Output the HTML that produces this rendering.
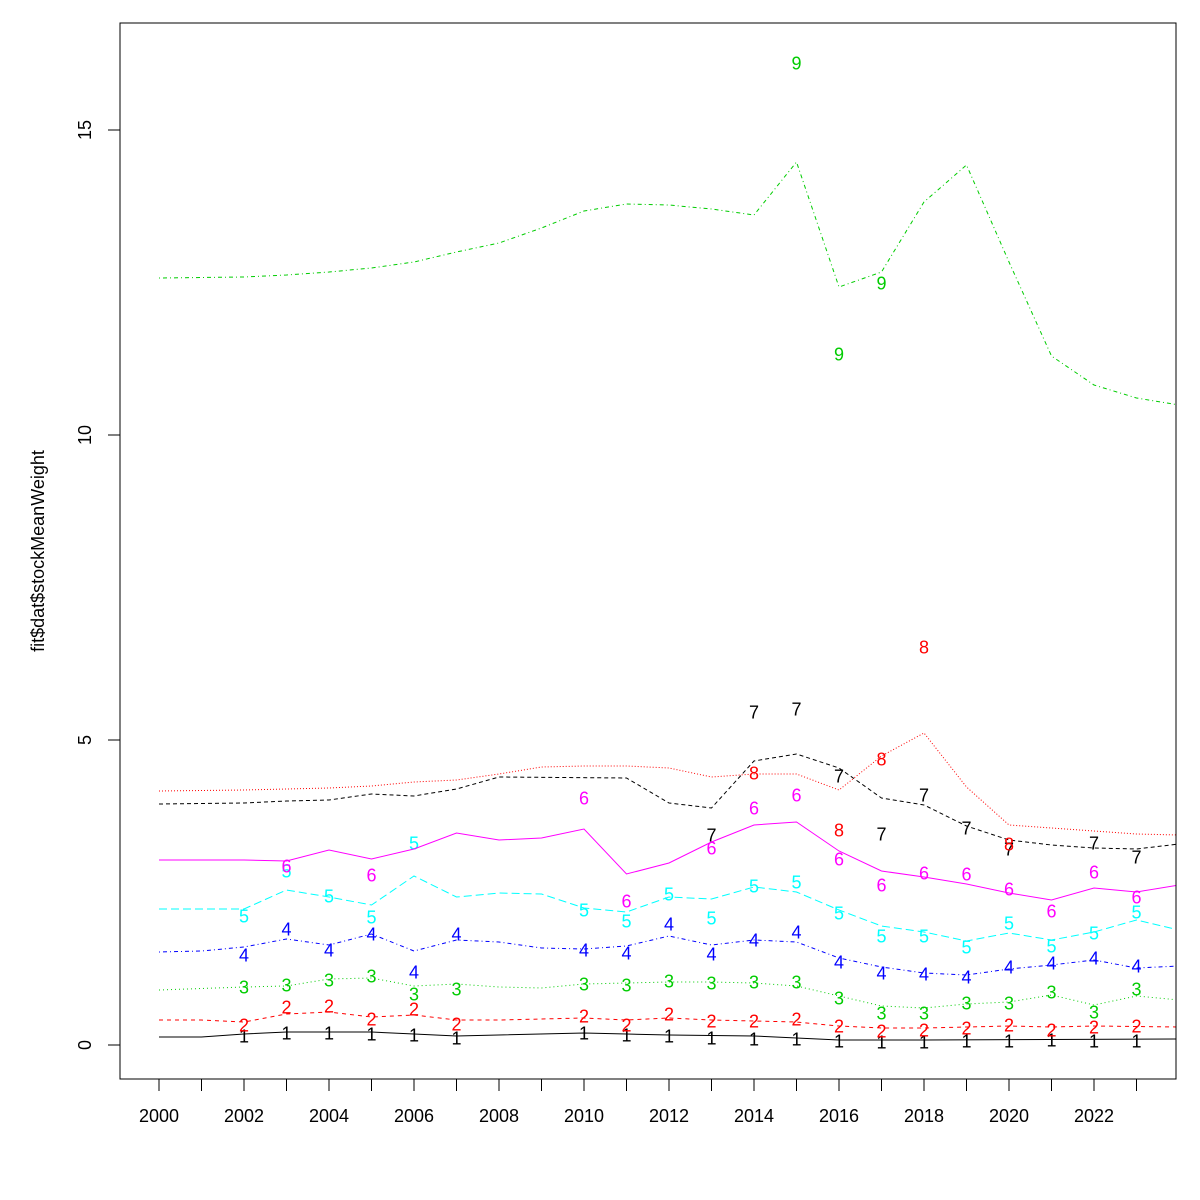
<!DOCTYPE html>
<html><head><meta charset="utf-8"><style>body{margin:0;background:#fff}svg{display:block}text{font-family:"Liberation Sans",Arial,sans-serif}</style></head>
<body>
<svg id="s" width="1200" height="1200" xmlns="http://www.w3.org/2000/svg">
<rect x="0" y="0" width="1200" height="1200" fill="#fff"/>
<g id="lines"></g>
<rect x="120" y="23" width="1056" height="1056" fill="none" stroke="#000" stroke-width="1"/>
<g id="axes" stroke="#000" fill="#000" font-size="18"></g>
<text x="44" y="551" font-size="18" text-anchor="middle" transform="rotate(-90 44 551)">fit$dat$stockMeanWeight</text>
</svg>
<script>
const X=y=>159+42.5*(y-2000);
const yrs=[];for(let i=2000;i<=2024;i++)yrs.push(i);
function full(pts){ // pts: [[year,y],...] interpolate
 const out=[];for(const yr of yrs){let a=null,b=null;for(const p of pts){if(p[0]<=yr)a=p;if(p[0]>=yr&&!b)b=p;}
 if(!a)a=b;if(!b)b=a;const v=a[0]==b[0]?a[1]:a[1]+(b[1]-a[1])*(yr-a[0])/(b[0]-a[0]);out.push([yr,v]);}return out;}
const S=[
{c:"#000",d:"",l:[[2000,1037],[2001,1037],[2002,1034],[2003,1032],[2005,1032],[2006,1034],[2007,1036],[2010,1033],[2011,1034],[2012,1035],[2014,1036],[2015,1038],[2016,1040],[2018,1040],[2024,1039]],
 p:[[2002,1036],[2003,1033],[2004,1033],[2005,1034],[2006,1035],[2007,1038],[2010,1033],[2011,1035],[2012,1036],[2013,1038],[2014,1039],[2015,1039],[2016,1041],[2017,1042],[2018,1042],[2019,1041],[2020,1041],[2021,1040],[2022,1041],[2023,1041]]},
{c:"#f00",d:"4,4",l:[[2000,1020],[2001,1020],[2002,1022],[2003,1014],[2004,1012],[2005,1017],[2006,1015],[2007,1020],[2008,1020],[2009,1019],[2010,1018],[2011,1020],[2012,1018],[2013,1020],[2014,1021],[2015,1022],[2016,1026],[2017,1028],[2018,1028],[2019,1027],[2020,1026],[2021,1027],[2022,1026],[2024,1027]],
 p:[[2002,1025],[2003,1007],[2004,1006],[2005,1019],[2006,1009],[2007,1024],[2010,1016],[2011,1025],[2012,1014],[2013,1021],[2014,1021],[2015,1019],[2016,1026],[2017,1031],[2018,1030],[2019,1028],[2020,1025],[2021,1030],[2022,1027],[2023,1026]]},
{c:"#0c0",d:"1,3",l:[[2000,990],[2002,987],[2003,986],[2004,979],[2005,978],[2006,986],[2007,984],[2008,987],[2009,988],[2010,984],[2011,983],[2012,982],[2013,982],[2014,983],[2015,986],[2016,996],[2017,1006],[2018,1008],[2019,1004],[2020,1002],[2021,995],[2022,1005],[2023,996],[2024,1000]],
 p:[[2002,987],[2003,985],[2004,980],[2005,976],[2006,994],[2007,989],[2010,984],[2011,985],[2012,981],[2013,983],[2014,982],[2015,982],[2016,998],[2017,1013],[2018,1013],[2019,1003],[2020,1003],[2021,992],[2022,1012],[2023,989]]},
{c:"#00f",d:"1,3,4,3",l:[[2000,952],[2001,951],[2002,947],[2003,939],[2004,945],[2005,934],[2006,951],[2007,940],[2008,942],[2009,948],[2010,949],[2011,946],[2012,936],[2013,945],[2014,940],[2015,942],[2016,958],[2017,967],[2018,973],[2019,975],[2020,969],[2021,965],[2022,960],[2023,968],[2024,966]],
 p:[[2002,955],[2003,929],[2004,950],[2005,934],[2006,972],[2007,934],[2010,950],[2011,953],[2012,924],[2013,954],[2014,940],[2015,932],[2016,962],[2017,973],[2018,974],[2019,977],[2020,967],[2021,963],[2022,958],[2023,966]]},
{c:"#0ff",d:"8,4",l:[[2000,909],[2002,909],[2003,890],[2004,897],[2005,905],[2006,876],[2007,897],[2008,893],[2009,894],[2010,908],[2011,912],[2012,897],[2013,899],[2014,887],[2015,892],[2016,910],[2017,926],[2018,932],[2019,941],[2020,933],[2021,940],[2022,932],[2023,920],[2024,930]],
 p:[[2002,916],[2003,871],[2004,896],[2005,917],[2006,843],[2010,910],[2011,921],[2012,894],[2013,918],[2014,886],[2015,882],[2016,913],[2017,936],[2018,936],[2019,947],[2020,923],[2021,946],[2022,933],[2023,912]]},
{c:"#f0f",d:"",l:[[2000,860],[2002,860],[2003,861],[2004,850],[2005,859],[2006,849],[2007,833],[2008,840],[2009,838],[2010,829],[2011,874],[2012,863],[2013,842],[2014,825],[2015,822],[2016,851],[2017,871],[2018,877],[2019,884],[2020,893],[2021,900],[2022,888],[2023,892],[2024,885]],
 p:[[2003,866],[2005,875],[2010,798],[2011,901],[2013,848],[2014,808],[2015,795],[2016,859],[2017,885],[2018,873],[2019,874],[2020,889],[2021,911],[2022,872],[2023,897]]},
{c:"#000",d:"4,3",l:[[2000,804],[2002,803],[2003,801],[2004,800],[2005,794],[2006,796],[2007,789],[2008,777],[2011,778],[2012,803],[2013,808],[2014,761],[2015,754],[2016,768],[2017,798],[2018,805],[2019,826],[2020,840],[2021,845],[2022,848],[2023,849],[2024,844]],
 p:[[2013,835],[2014,712],[2015,709],[2016,776],[2017,834],[2018,795],[2019,828],[2020,849],[2022,843],[2023,857]]},
{c:"#f00",d:"1,2",l:[[2000,791],[2002,790],[2003,789],[2004,788],[2005,786],[2006,782],[2007,780],[2008,774],[2009,767],[2010,766],[2011,766],[2012,768],[2013,777],[2014,774],[2015,774],[2016,790],[2017,756],[2018,733],[2019,787],[2020,825],[2021,828],[2022,831],[2023,834],[2024,835]],
 p:[[2014,773],[2016,830],[2017,759],[2018,647],[2020,844]]},
{c:"#0c0",d:"1,3,4,3",l:[[2000,278],[2002,277],[2003,275],[2004,272],[2005,268],[2006,262],[2007,252],[2008,243],[2009,228],[2010,211],[2011,204],[2012,205],[2013,209],[2014,215],[2015,162],[2016,287],[2017,272],[2018,202],[2019,165],[2020,262],[2021,356],[2022,385],[2023,398],[2024,405]],
 p:[[2015,63],[2016,354],[2017,283]]}
];
const NS="http://www.w3.org/2000/svg";
const g=document.getElementById("lines");
let h="<clipPath id='c'><rect x='120' y='23' width='1056' height='1056'/></clipPath><g clip-path='url(#c)'>";
S.forEach((s,i)=>{
 const pts=s.l.map(p=>X(p[0]).toFixed(1)+","+p[1]).join(" ");
 h+=`<polyline points="${pts}" fill="none" stroke="${s.c}" stroke-width="1" ${s.d?`stroke-dasharray="${s.d}"`:""}/>`;
 s.p.forEach(p=>{h+=`<text x="${X(p[0]).toFixed(1)}" y="${p[1]+6.5}" font-size="18" fill="${s.c}" text-anchor="middle">${i+1}</text>`;});
});
h+="</g>";
g.innerHTML=h;
let a="";
for(let yr=2000;yr<=2023;yr++){const x=X(yr);a+=`<line x1="${x}" y1="1079" x2="${x}" y2="1091"/>`;if(yr%2==0)a+=`<text x="${x}" y="1122" text-anchor="middle" stroke="none">${yr}</text>`;}
[[0,1045],[5,740],[10,435],[15,130]].forEach(t=>{a+=`<line x1="108" y1="${t[1]}" x2="120" y2="${t[1]}"/><text x="91" y="${t[1]}" text-anchor="middle" stroke="none" transform="rotate(-90 91 ${t[1]})">${t[0]}</text>`;});
document.getElementById("axes").innerHTML=a;
</script>
</body></html>
